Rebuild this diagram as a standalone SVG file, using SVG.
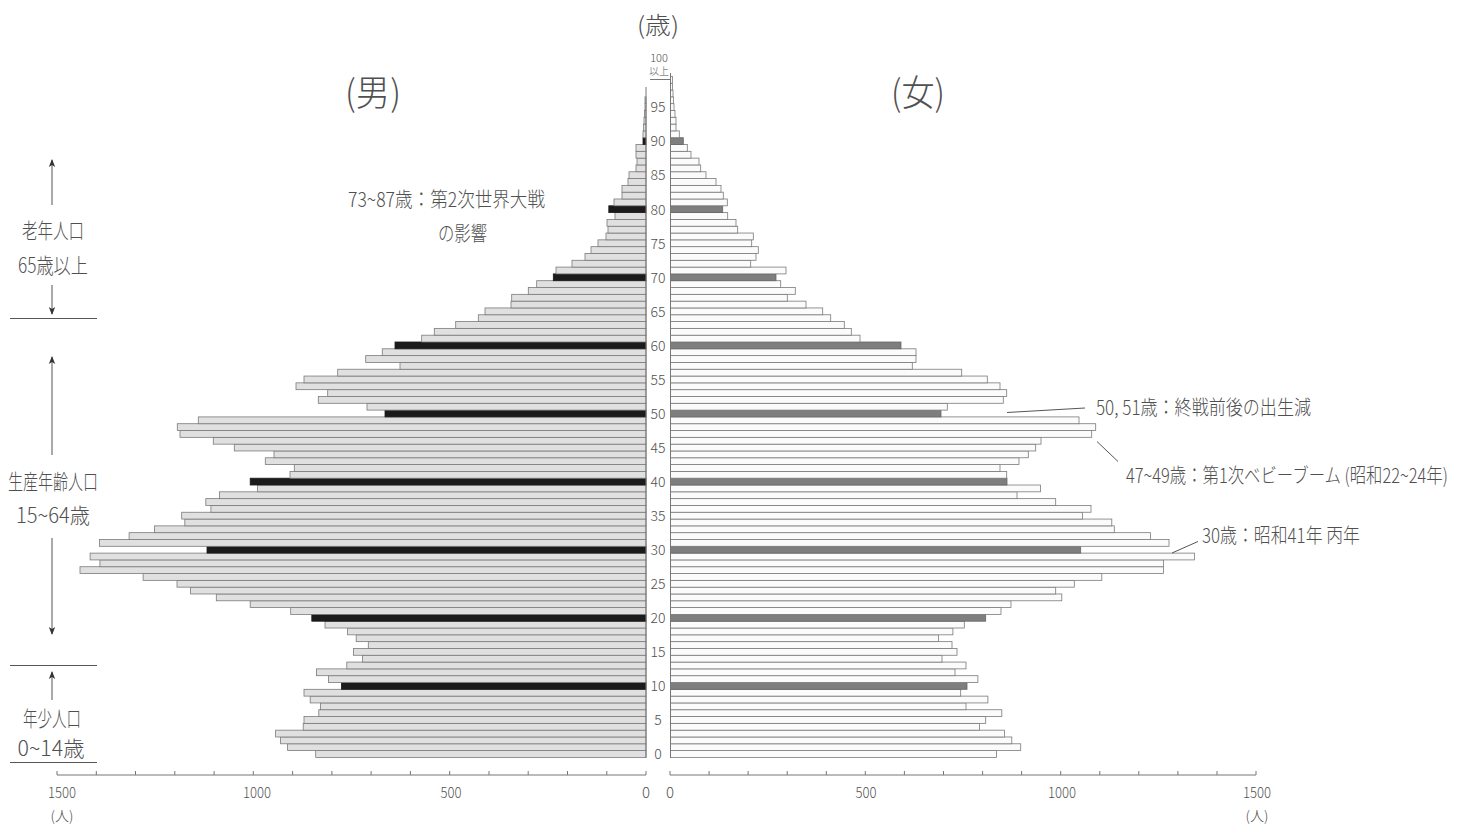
<svg xmlns="http://www.w3.org/2000/svg" width="1466" height="829" viewBox="0 0 1466 829">
<defs>
<style>
.m{fill:#e0e0e0;stroke:#7a7a7a;stroke-width:0.8}
.mk{fill:#1b1b1b;stroke:#1b1b1b;stroke-width:0.8}
.f{fill:#fbfbfb;stroke:#7a7a7a;stroke-width:0.8}
.fk{fill:#7e7e7e;stroke:#666;stroke-width:0.8}
.t{font-family:"Noto Sans CJK JP","Liberation Sans",sans-serif;font-weight:300;fill:#505050}
.n{font-family:"Noto Sans CJK JP","Liberation Sans",sans-serif;font-weight:300;fill:#505050}
.ln{stroke:#555;stroke-width:1;fill:none}
.ax{stroke:#777;stroke-width:1;fill:none}
</style>
<marker id="ah" viewBox="0 0 8 8" refX="7" refY="4" markerWidth="8" markerHeight="8" orient="auto" markerUnits="userSpaceOnUse">
<path d="M0,0.8 L8,4 L0,7.2 L2,4 Z" fill="#333"/>
</marker>
</defs>
<rect width="1466" height="829" fill="#ffffff"/>

<g id="male-bars">
<rect class="m" x="315.7" y="750.6" width="330.3" height="6.81"/>
<rect class="m" x="287.6" y="743.79" width="358.4" height="6.81"/>
<rect class="m" x="280.6" y="736.98" width="365.4" height="6.81"/>
<rect class="m" x="275.6" y="730.17" width="370.4" height="6.81"/>
<rect class="m" x="303.2" y="723.36" width="342.8" height="6.81"/>
<rect class="m" x="304" y="716.55" width="342" height="6.81"/>
<rect class="m" x="318.8" y="709.74" width="327.2" height="6.81"/>
<rect class="m" x="320.4" y="702.93" width="325.6" height="6.81"/>
<rect class="m" x="310.2" y="696.12" width="335.8" height="6.81"/>
<rect class="m" x="304" y="689.31" width="342" height="6.81"/>
<rect class="mk" x="341.4" y="682.5" width="304.6" height="6.81"/>
<rect class="m" x="328.5" y="675.69" width="317.5" height="6.81"/>
<rect class="m" x="316.5" y="668.88" width="329.5" height="6.81"/>
<rect class="m" x="346.8" y="662.07" width="299.2" height="6.81"/>
<rect class="m" x="362.4" y="655.26" width="283.6" height="6.81"/>
<rect class="m" x="353.5" y="648.45" width="292.5" height="6.81"/>
<rect class="m" x="368.3" y="641.64" width="277.7" height="6.81"/>
<rect class="m" x="356.2" y="634.83" width="289.8" height="6.81"/>
<rect class="m" x="347.6" y="628.02" width="298.4" height="6.81"/>
<rect class="m" x="325" y="621.21" width="321" height="6.81"/>
<rect class="mk" x="311.8" y="614.4" width="334.2" height="6.81"/>
<rect class="m" x="290.7" y="607.59" width="355.3" height="6.81"/>
<rect class="m" x="250.2" y="600.78" width="395.8" height="6.81"/>
<rect class="m" x="216.3" y="593.97" width="429.7" height="6.81"/>
<rect class="m" x="190.6" y="587.16" width="455.4" height="6.81"/>
<rect class="m" x="177" y="580.35" width="469" height="6.81"/>
<rect class="m" x="143.1" y="573.54" width="502.9" height="6.81"/>
<rect class="m" x="80" y="566.73" width="566" height="6.81"/>
<rect class="m" x="99.9" y="559.92" width="546.1" height="6.81"/>
<rect class="m" x="90.1" y="553.11" width="555.9" height="6.81"/>
<rect class="mk" x="207" y="546.3" width="439" height="6.81"/>
<rect class="m" x="99.5" y="539.49" width="546.5" height="6.81"/>
<rect class="m" x="129.1" y="532.68" width="516.9" height="6.81"/>
<rect class="m" x="154.4" y="525.87" width="491.6" height="6.81"/>
<rect class="m" x="184.8" y="519.06" width="461.2" height="6.81"/>
<rect class="m" x="181.7" y="512.25" width="464.3" height="6.81"/>
<rect class="m" x="210.9" y="505.44" width="435.1" height="6.81"/>
<rect class="m" x="205.8" y="498.63" width="440.2" height="6.81"/>
<rect class="m" x="219.5" y="491.82" width="426.5" height="6.81"/>
<rect class="m" x="257.6" y="485.01" width="388.4" height="6.81"/>
<rect class="mk" x="250.2" y="478.2" width="395.8" height="6.81"/>
<rect class="m" x="290" y="471.39" width="356" height="6.81"/>
<rect class="m" x="294.3" y="464.58" width="351.7" height="6.81"/>
<rect class="m" x="265.3" y="457.77" width="380.7" height="6.81"/>
<rect class="m" x="274" y="450.96" width="372" height="6.81"/>
<rect class="m" x="234.3" y="444.15" width="411.7" height="6.81"/>
<rect class="m" x="213.3" y="437.34" width="432.7" height="6.81"/>
<rect class="m" x="180" y="430.53" width="466" height="6.81"/>
<rect class="m" x="177.3" y="423.72" width="468.7" height="6.81"/>
<rect class="m" x="198.3" y="416.91" width="447.7" height="6.81"/>
<rect class="mk" x="385" y="410.1" width="261" height="6.81"/>
<rect class="m" x="367" y="403.29" width="279" height="6.81"/>
<rect class="m" x="318.3" y="396.48" width="327.7" height="6.81"/>
<rect class="m" x="327.7" y="389.67" width="318.3" height="6.81"/>
<rect class="m" x="296" y="382.86" width="350" height="6.81"/>
<rect class="m" x="304" y="376.05" width="342" height="6.81"/>
<rect class="m" x="337.7" y="369.24" width="308.3" height="6.81"/>
<rect class="m" x="400" y="362.43" width="246" height="6.81"/>
<rect class="m" x="365.7" y="355.62" width="280.3" height="6.81"/>
<rect class="m" x="382.3" y="348.81" width="263.7" height="6.81"/>
<rect class="mk" x="395" y="342" width="251" height="6.81"/>
<rect class="m" x="421.7" y="335.19" width="224.3" height="6.81"/>
<rect class="m" x="434.3" y="328.38" width="211.7" height="6.81"/>
<rect class="m" x="455.7" y="321.57" width="190.3" height="6.81"/>
<rect class="m" x="478.3" y="314.76" width="167.7" height="6.81"/>
<rect class="m" x="485" y="307.95" width="161" height="6.81"/>
<rect class="m" x="511" y="301.14" width="135" height="6.81"/>
<rect class="m" x="511.7" y="294.33" width="134.3" height="6.81"/>
<rect class="m" x="528.3" y="287.52" width="117.7" height="6.81"/>
<rect class="m" x="536.7" y="280.71" width="109.3" height="6.81"/>
<rect class="mk" x="553.3" y="273.9" width="92.7" height="6.81"/>
<rect class="m" x="556" y="267.09" width="90" height="6.81"/>
<rect class="m" x="572" y="260.28" width="74" height="6.81"/>
<rect class="m" x="585" y="253.47" width="61" height="6.81"/>
<rect class="m" x="591" y="246.66" width="55" height="6.81"/>
<rect class="m" x="598" y="239.85" width="48" height="6.81"/>
<rect class="m" x="606" y="233.04" width="40" height="6.81"/>
<rect class="m" x="608" y="226.23" width="38" height="6.81"/>
<rect class="m" x="607" y="219.42" width="39" height="6.81"/>
<rect class="m" x="615" y="212.61" width="31" height="6.81"/>
<rect class="mk" x="608.8" y="205.8" width="37.2" height="6.81"/>
<rect class="m" x="614" y="198.99" width="32" height="6.81"/>
<rect class="m" x="622" y="192.18" width="24" height="6.81"/>
<rect class="m" x="622" y="185.37" width="24" height="6.81"/>
<rect class="m" x="628" y="178.56" width="18" height="6.81"/>
<rect class="m" x="629" y="171.75" width="17" height="6.81"/>
<rect class="m" x="636" y="164.94" width="10" height="6.81"/>
<rect class="m" x="637" y="158.13" width="9" height="6.81"/>
<rect class="m" x="636" y="151.32" width="10" height="6.81"/>
<rect class="m" x="636" y="144.51" width="10" height="6.81"/>
<rect class="mk" x="643" y="137.7" width="3" height="6.81"/>
<rect class="m" x="643" y="130.89" width="3" height="6.81"/>
<rect class="m" x="643.5" y="124.08" width="2.5" height="6.81"/>
<rect class="m" x="644" y="117.27" width="2" height="6.81"/>
<rect class="m" x="644.5" y="110.46" width="1.5" height="6.81"/>
<rect class="m" x="645" y="103.65" width="1" height="6.81"/>
<rect class="m" x="645" y="96.84" width="1" height="6.81"/>
</g>

<g id="female-bars">
<rect class="f" x="670.5" y="750.6" width="325.9" height="6.81"/>
<rect class="f" x="670.5" y="743.79" width="350.2" height="6.81"/>
<rect class="f" x="670.5" y="736.98" width="341.3" height="6.81"/>
<rect class="f" x="670.5" y="730.17" width="334.1" height="6.81"/>
<rect class="f" x="670.5" y="723.36" width="309.1" height="6.81"/>
<rect class="f" x="670.5" y="716.55" width="315.2" height="6.81"/>
<rect class="f" x="670.5" y="709.74" width="331.3" height="6.81"/>
<rect class="f" x="670.5" y="702.93" width="295.5" height="6.81"/>
<rect class="f" x="670.5" y="696.12" width="317.4" height="6.81"/>
<rect class="f" x="670.5" y="689.31" width="290.2" height="6.81"/>
<rect class="fk" x="670.5" y="682.5" width="296.5" height="6.81"/>
<rect class="f" x="670.5" y="675.69" width="307.4" height="6.81"/>
<rect class="f" x="670.5" y="668.88" width="284.5" height="6.81"/>
<rect class="f" x="670.5" y="662.07" width="295.5" height="6.81"/>
<rect class="f" x="670.5" y="655.26" width="271.5" height="6.81"/>
<rect class="f" x="670.5" y="648.45" width="286.5" height="6.81"/>
<rect class="f" x="670.5" y="641.64" width="281.5" height="6.81"/>
<rect class="f" x="670.5" y="634.83" width="268.1" height="6.81"/>
<rect class="f" x="670.5" y="628.02" width="282.4" height="6.81"/>
<rect class="f" x="670.5" y="621.21" width="293.8" height="6.81"/>
<rect class="fk" x="670.5" y="614.4" width="315.2" height="6.81"/>
<rect class="f" x="670.5" y="607.59" width="330.5" height="6.81"/>
<rect class="f" x="670.5" y="600.78" width="340.5" height="6.81"/>
<rect class="f" x="670.5" y="593.97" width="391.3" height="6.81"/>
<rect class="f" x="670.5" y="587.16" width="385.2" height="6.81"/>
<rect class="f" x="670.5" y="580.35" width="403.8" height="6.81"/>
<rect class="f" x="670.5" y="573.54" width="431.3" height="6.81"/>
<rect class="f" x="670.5" y="566.73" width="493.1" height="6.81"/>
<rect class="f" x="670.5" y="559.92" width="493.1" height="6.81"/>
<rect class="f" x="670.5" y="553.11" width="524.1" height="6.81"/>
<rect class="fk" x="670.5" y="546.3" width="410.2" height="6.81"/>
<rect class="f" x="670.5" y="539.49" width="498.5" height="6.81"/>
<rect class="f" x="670.5" y="532.68" width="479.9" height="6.81"/>
<rect class="f" x="670.5" y="525.87" width="443.8" height="6.81"/>
<rect class="f" x="670.5" y="519.06" width="441.3" height="6.81"/>
<rect class="f" x="670.5" y="512.25" width="412" height="6.81"/>
<rect class="f" x="670.5" y="505.44" width="420.5" height="6.81"/>
<rect class="f" x="670.5" y="498.63" width="385.2" height="6.81"/>
<rect class="f" x="670.5" y="491.82" width="346.5" height="6.81"/>
<rect class="f" x="670.5" y="485.01" width="369.9" height="6.81"/>
<rect class="fk" x="670.5" y="478.2" width="336.5" height="6.81"/>
<rect class="f" x="670.5" y="471.39" width="336.2" height="6.81"/>
<rect class="f" x="670.5" y="464.58" width="329.5" height="6.81"/>
<rect class="f" x="670.5" y="457.77" width="348.5" height="6.81"/>
<rect class="f" x="670.5" y="450.96" width="357.8" height="6.81"/>
<rect class="f" x="670.5" y="444.15" width="365.2" height="6.81"/>
<rect class="f" x="670.5" y="437.34" width="370.5" height="6.81"/>
<rect class="f" x="670.5" y="430.53" width="421.2" height="6.81"/>
<rect class="f" x="670.5" y="423.72" width="425.2" height="6.81"/>
<rect class="f" x="670.5" y="416.91" width="408.5" height="6.81"/>
<rect class="fk" x="670.5" y="410.1" width="270.5" height="6.81"/>
<rect class="f" x="670.5" y="403.29" width="276.8" height="6.81"/>
<rect class="f" x="670.5" y="396.48" width="332.8" height="6.81"/>
<rect class="f" x="670.5" y="389.67" width="336.2" height="6.81"/>
<rect class="f" x="670.5" y="382.86" width="329.5" height="6.81"/>
<rect class="f" x="670.5" y="376.05" width="316.8" height="6.81"/>
<rect class="f" x="670.5" y="369.24" width="291.2" height="6.81"/>
<rect class="f" x="670.5" y="362.43" width="241.8" height="6.81"/>
<rect class="f" x="670.5" y="355.62" width="245.5" height="6.81"/>
<rect class="f" x="670.5" y="348.81" width="245.5" height="6.81"/>
<rect class="fk" x="670.5" y="342" width="230.5" height="6.81"/>
<rect class="f" x="670.5" y="335.19" width="189.5" height="6.81"/>
<rect class="f" x="670.5" y="328.38" width="180.8" height="6.81"/>
<rect class="f" x="670.5" y="321.57" width="173.8" height="6.81"/>
<rect class="f" x="670.5" y="314.76" width="160.2" height="6.81"/>
<rect class="f" x="670.5" y="307.95" width="152.2" height="6.81"/>
<rect class="f" x="670.5" y="301.14" width="135.5" height="6.81"/>
<rect class="f" x="670.5" y="294.33" width="116.8" height="6.81"/>
<rect class="f" x="670.5" y="287.52" width="124.8" height="6.81"/>
<rect class="f" x="670.5" y="280.71" width="110.2" height="6.81"/>
<rect class="fk" x="670.5" y="273.9" width="105.5" height="6.81"/>
<rect class="f" x="670.5" y="267.09" width="115.5" height="6.81"/>
<rect class="f" x="670.5" y="260.28" width="80.2" height="6.81"/>
<rect class="f" x="670.5" y="253.47" width="85.5" height="6.81"/>
<rect class="f" x="670.5" y="246.66" width="87.8" height="6.81"/>
<rect class="f" x="670.5" y="239.85" width="81.2" height="6.81"/>
<rect class="f" x="670.5" y="233.04" width="82.8" height="6.81"/>
<rect class="f" x="670.5" y="226.23" width="67.2" height="6.81"/>
<rect class="f" x="670.5" y="219.42" width="65.5" height="6.81"/>
<rect class="f" x="670.5" y="212.61" width="57.2" height="6.81"/>
<rect class="fk" x="670.5" y="205.8" width="52.2" height="6.81"/>
<rect class="f" x="670.5" y="198.99" width="56.8" height="6.81"/>
<rect class="f" x="670.5" y="192.18" width="52.8" height="6.81"/>
<rect class="f" x="670.5" y="185.37" width="50.5" height="6.81"/>
<rect class="f" x="670.5" y="178.56" width="45.5" height="6.81"/>
<rect class="f" x="670.5" y="171.75" width="35.5" height="6.81"/>
<rect class="f" x="670.5" y="164.94" width="30.2" height="6.81"/>
<rect class="f" x="670.5" y="158.13" width="28.5" height="6.81"/>
<rect class="f" x="670.5" y="151.32" width="20.5" height="6.81"/>
<rect class="f" x="670.5" y="144.51" width="16.8" height="6.81"/>
<rect class="fk" x="670.5" y="137.7" width="12.8" height="6.81"/>
<rect class="f" x="670.5" y="130.89" width="8.8" height="6.81"/>
<rect class="f" x="670.5" y="124.08" width="5.5" height="6.81"/>
<rect class="f" x="670.5" y="117.27" width="5.5" height="6.81"/>
<rect class="f" x="670.5" y="110.46" width="4.5" height="6.81"/>
<rect class="f" x="670.5" y="103.65" width="3.5" height="6.81"/>
<rect class="f" x="670.5" y="96.84" width="3" height="6.81"/>
<rect class="f" x="670.5" y="90.03" width="2.5" height="6.81"/>
<rect class="f" x="670.5" y="83.22" width="2" height="6.81"/>
<rect class="f" x="670.5" y="76.41" width="2" height="6.81"/>
</g>

<g id="axes">
<path class="ax" d="M646,87 V758 M670.5,73 V758 M650,79.5 H670.5"/>
<path class="ax" d="M57,775 H646 M670,775 H1256"/>
<path class="ax" d="M57,775 v-4 M96.3,775 v-4 M135.5,775 v-4 M174.8,775 v-4 M214.1,775 v-4 M253.3,775 v-4 M292.6,775 v-4 M331.9,775 v-4 M371.1,775 v-4 M410.4,775 v-4 M449.7,775 v-4 M489,775 v-4 M528.2,775 v-4 M567.5,775 v-4 M606.8,775 v-4 M646,775 v-4 M670,775 v-4 M709.1,775 v-4 M748.1,775 v-4 M787.2,775 v-4 M826.3,775 v-4 M865.3,775 v-4 M904.4,775 v-4 M943.5,775 v-4 M982.6,775 v-4 M1021.6,775 v-4 M1060.7,775 v-4 M1099.8,775 v-4 M1138.8,775 v-4 M1177.9,775 v-4 M1217,775 v-4 M1256,775 v-4"/>
<g class="n" font-size="15" text-anchor="middle">
<text x="62" y="798" textLength="28" lengthAdjust="spacingAndGlyphs">1500</text>
<text x="257" y="798" textLength="28" lengthAdjust="spacingAndGlyphs">1000</text>
<text x="451" y="798" textLength="21" lengthAdjust="spacingAndGlyphs">500</text>
<text x="646" y="798">0</text>
<text x="670" y="798">0</text>
<text x="866" y="798" textLength="21" lengthAdjust="spacingAndGlyphs">500</text>
<text x="1062" y="798" textLength="28" lengthAdjust="spacingAndGlyphs">1000</text>
<text x="1257" y="798" textLength="28" lengthAdjust="spacingAndGlyphs">1500</text>
</g>
<g class="t" font-size="14" text-anchor="middle">
<text x="62" y="821">(人)</text>
<text x="1257" y="821">(人)</text>
</g>
</g>

<g id="age-labels" class="n" font-size="14" text-anchor="middle">
<text x="658" y="759">0</text>
<text x="658" y="725">5</text>
<text x="658" y="691">10</text>
<text x="658" y="657">15</text>
<text x="658" y="623">20</text>
<text x="658" y="589">25</text>
<text x="658" y="555">30</text>
<text x="658" y="521">35</text>
<text x="658" y="487">40</text>
<text x="658" y="453">45</text>
<text x="658" y="419">50</text>
<text x="658" y="385">55</text>
<text x="658" y="351">60</text>
<text x="658" y="317">65</text>
<text x="658" y="283">70</text>
<text x="658" y="249">75</text>
<text x="658" y="215">80</text>
<text x="658" y="180">85</text>
<text x="658" y="146">90</text>
<text x="658" y="112">95</text>
<text x="659" y="62" font-size="11">100</text>
<text x="659" y="75" font-size="10">以上</text>
</g>

<g id="titles" class="t" text-anchor="middle">
<text x="658" y="34" font-size="24" textLength="42" lengthAdjust="spacingAndGlyphs">(歳)</text>
<text x="373" y="106" font-size="36" textLength="56" lengthAdjust="spacingAndGlyphs">(男)</text>
<text x="918" y="106" font-size="36" textLength="54" lengthAdjust="spacingAndGlyphs">(女)</text>
</g>

<g id="group-labels" class="t" font-size="21" text-anchor="middle">
<text x="53" y="238" textLength="62" lengthAdjust="spacingAndGlyphs">老年人口</text>
<text x="53" y="273" textLength="70" lengthAdjust="spacingAndGlyphs">65歳以上</text>
<text x="53" y="489" textLength="90" lengthAdjust="spacingAndGlyphs">生産年齢人口</text>
<text x="53" y="523" textLength="74" lengthAdjust="spacingAndGlyphs">15~64歳</text>
<text x="52" y="726" textLength="58" lengthAdjust="spacingAndGlyphs">年少人口</text>
<text x="51" y="756" textLength="67" lengthAdjust="spacingAndGlyphs">0~14歳</text>
</g>

<g id="annotations" class="t" font-size="20">
<text x="348" y="207" textLength="197" lengthAdjust="spacingAndGlyphs">73~87歳：第2次世界大戦</text>
<text x="438" y="241" textLength="49" lengthAdjust="spacingAndGlyphs">の影響</text>
<text x="1096" y="415" textLength="215" lengthAdjust="spacingAndGlyphs">50, 51歳：終戦前後の出生減</text>
<text transform="translate(1126,483) scale(0.82,1)" x="0" y="0" font-size="20">47~49歳：第1次ベビーブーム (昭和22~24年)</text>
<text x="1202" y="543" textLength="158" lengthAdjust="spacingAndGlyphs">30歳：昭和41年 丙年</text>
</g>

<g id="connectors">
<path class="ln" d="M1007,412.5 L1085,408"/>
<path class="ln" d="M1097,441.5 L1118,461.5"/>
<path class="ln" d="M1172,553 L1198,541.5"/>
<path class="ln" d="M52,205 V160" marker-end="url(#ah)"/>
<path class="ln" d="M52,285 V314" marker-end="url(#ah)"/>
<path class="ln" d="M52,455 V357" marker-end="url(#ah)"/>
<path class="ln" d="M52,538 V634" marker-end="url(#ah)"/>
<path class="ln" d="M52,700 V672" marker-end="url(#ah)"/>
<path class="ln" d="M10,318.5 H97 M10,665.5 H97 M10,762.5 H97"/>
</g>
</svg>
